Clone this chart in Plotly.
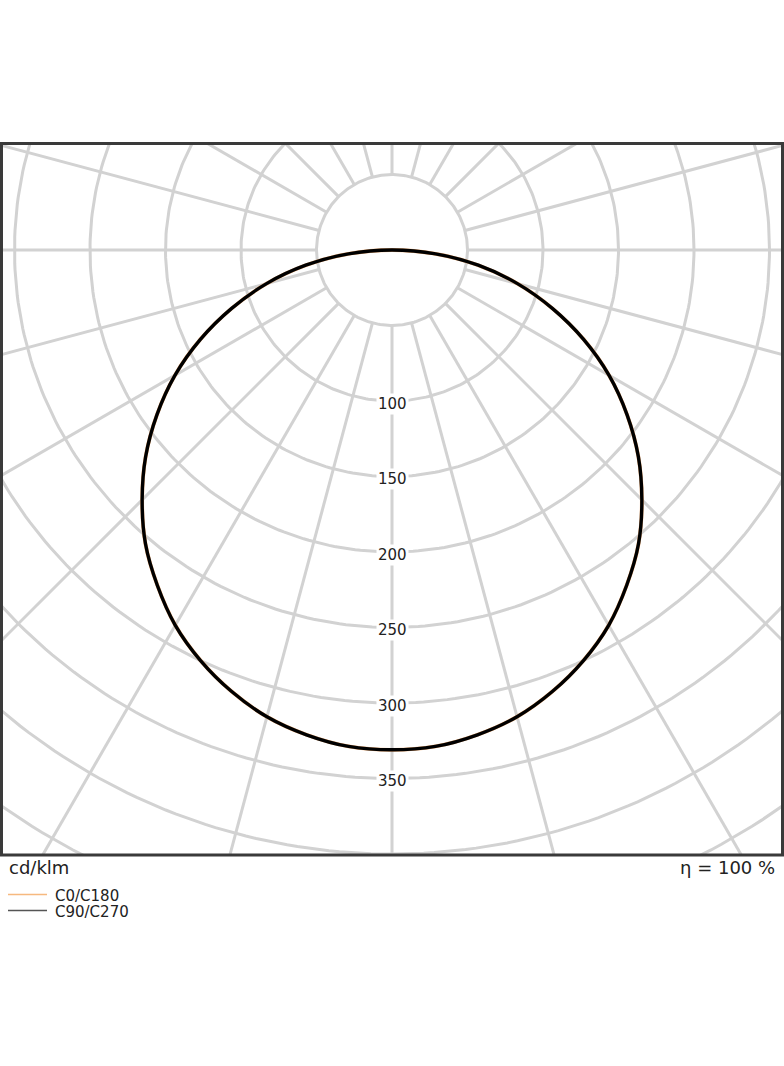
import numpy as np
import plotly.graph_objects as go

# ---- data ----
gamma_deg = [0, 5, 10, 15, 20, 25, 30, 35, 40, 45, 50, 55, 60, 65, 70, 75, 80, 85, 90]
c0_c180 = [331, 330, 326, 320, 311, 300, 287, 271, 254, 234, 213, 190, 166, 140, 113, 86, 58, 29, 0]
c90_c270 = [331, 330, 326, 320, 311, 300, 287, 271, 254, 234, 213, 190, 166, 140, 113, 86, 58, 29, 0]

grid_radii = [50, 100, 150, 200, 250, 300, 350, 400, 450, 500]
radial_angles = list(range(0, 360, 15))
label_values = [100, 150, 200, 250, 300, 350]
unit_text = "cd/klm"
eff_text = "η = 100 %"
series_names = ["C0/C180", "C90/C270"]
series_colors = ["#f4b27a", "#000000"]
legend_line_colors = ["#f6b97f", "#555555"]

FONT = "DejaVu Sans"
W, H = 784, 1066
M_T, M_B = 143, 210
S = 1.51  # px per cd/klm
CX, CY = 392, 250  # pixel position of the pole


def polar_xy(gam, r):
    g = np.radians(np.asarray(gam, dtype=float))
    r = np.asarray(r, dtype=float)
    return r * np.sin(g), -r * np.cos(g)


def full_curve(vals):
    # left half (C180 / C270) mirrored, right half (C0 / C90)
    gam = [-g for g in gamma_deg[::-1]] + gamma_deg[1:]
    rr = list(vals[::-1]) + list(vals[1:])
    return polar_xy(gam, rr)


fig = go.Figure()

# grid circles
gx, gy = [], []
t = np.linspace(0, 360, 361)
for r in grid_radii:
    x, y = polar_xy(t, [r] * len(t))
    gx += list(x) + [None]
    gy += list(y) + [None]
fig.add_trace(go.Scatter(x=gx, y=gy, mode="lines", line=dict(color="#d2d2d2", width=3),
                         hoverinfo="skip", showlegend=False))

# radial lines
rx, ry = [], []
for a in radial_angles:
    x, y = polar_xy([a, a], [grid_radii[0], 800])
    rx += list(x) + [None]
    ry += list(y) + [None]
fig.add_trace(go.Scatter(x=rx, y=ry, mode="lines", line=dict(color="#d2d2d2", width=3),
                         hoverinfo="skip", showlegend=False))

# curves
for name, vals, col, w in zip(series_names, [c0_c180, c90_c270], series_colors, [3.8, 3.4]):
    x, y = full_curve(vals)
    fig.add_trace(go.Scatter(x=x, y=y, mode="lines", name=name,
                             line=dict(color=col, width=w, shape="spline", smoothing=1),
                             showlegend=False))

# ring labels
for v in label_values:
    fig.add_annotation(x=0, y=-v, xref="x", yref="y", text=str(v), showarrow=False,
                       bgcolor="white", borderpad=1, yshift=-2.5,
                       font=dict(family=FONT, size=15, color="#222222"))

plot_h = H - M_T - M_B


def py(p):
    return (H - M_B - p) / plot_h


def px(p):
    return p / W


fig.add_annotation(x=px(7), y=py(868), xref="paper", yref="paper", text=unit_text,
                   showarrow=False, xanchor="left", yanchor="middle",
                   font=dict(family=FONT, size=18, color="#222222"))
fig.add_annotation(x=px(777), y=py(868), xref="paper", yref="paper", text=eff_text,
                   showarrow=False, xanchor="right", yanchor="middle",
                   font=dict(family=FONT, size=18, color="#222222"))

for i, (name, lc) in enumerate(zip(series_names, legend_line_colors)):
    yl = 894.5 + 16 * i
    fig.add_shape(type="line", xref="paper", yref="paper", x0=px(8), x1=px(47),
                  y0=py(yl), y1=py(yl), line=dict(color=lc, width=1.3))
    fig.add_annotation(x=px(53), y=py(yl + 2), xref="paper", yref="paper", text=name,
                       showarrow=False, xanchor="left", yanchor="middle",
                       font=dict(family=FONT, size=15, color="#222222"))

# frame
fig.add_shape(type="rect", xref="paper", yref="paper", x0=px(1.5), x1=px(782.5),
              y0=py(855), y1=py(143.5), line=dict(color="#3a3a3a", width=3), layer="above")

fig.update_xaxes(range=[-CX / S, (W - CX) / S], visible=False, fixedrange=True)
fig.update_yaxes(range=[-(H - M_B - CY) / S, (CY - M_T) / S], visible=False, fixedrange=True)
fig.update_layout(width=W, height=H, autosize=False,
                  margin=dict(l=0, r=0, t=M_T, b=M_B, pad=0),
                  plot_bgcolor="white", paper_bgcolor="white",
                  showlegend=False, font=dict(family=FONT))

fig.write_html("out.html", config={"displayModeBar": False},
               post_script="document.body.style.margin='0';document.body.style.padding='0';")
